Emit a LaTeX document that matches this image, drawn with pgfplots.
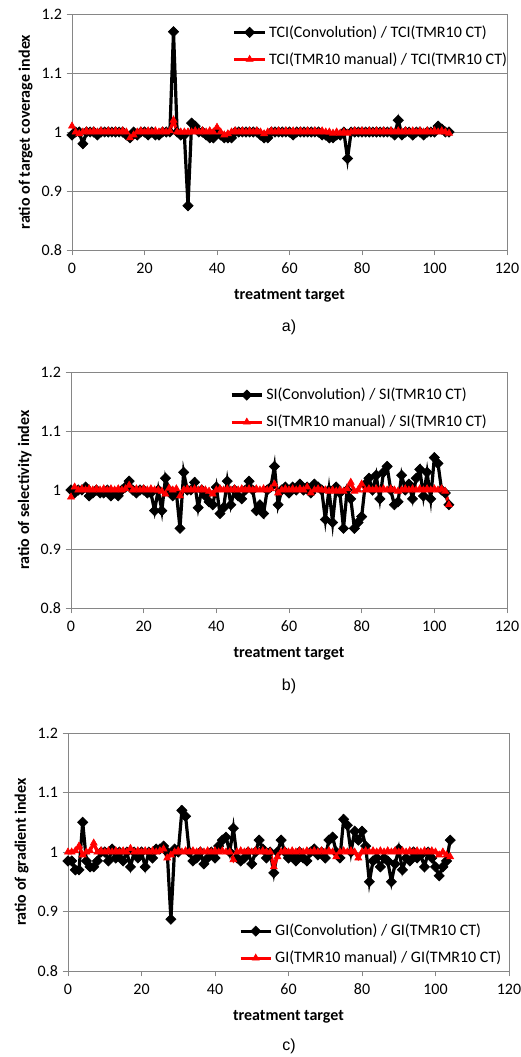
\documentclass[border=0pt]{standalone}
\usepackage{fontspec}
\setmainfont{Carlito}
\newfontfamily\arialfont{Liberation Sans}
\usepackage{pgfplots}
\pgfplotsset{compat=1.18}
\usepackage{pgfplotstable}

\definecolor{axgray}{RGB}{134,134,134}
\definecolor{exred}{RGB}{255,0,0}

% ratio of indices per treatment target
\pgfplotstableread{
x conv man
0 0.995 1.010
1 1.000 1.000
2 1.000 0.997
3 0.980 1.000
4 1.000 1.002
5 1.000 1.000
6 1.000 1.002
7 0.995 1.000
8 1.000 1.002
9 1.000 1.000
10 1.000 1.002
11 1.000 1.000
12 1.000 1.002
13 1.000 1.000
14 1.000 1.002
15 0.995 1.000
16 0.990 0.990
17 1.000 0.995
18 0.995 1.000
19 1.000 1.002
20 1.000 1.000
21 0.995 1.002
22 1.000 1.000
23 0.995 1.002
24 0.995 1.000
25 1.000 1.002
26 1.000 1.000
27 1.000 1.002
28 1.170 1.020
29 1.000 1.000
30 0.995 1.000
31 0.995 1.000
32 0.875 1.000
33 1.015 1.000
34 1.010 1.002
35 1.000 1.000
36 1.000 1.002
37 0.995 1.000
38 0.990 1.002
39 0.990 1.000
40 1.000 1.008
41 0.995 1.000
42 0.990 0.995
43 0.990 0.997
44 0.990 1.000
45 1.000 1.002
46 1.000 1.000
47 1.000 1.002
48 1.000 1.000
49 1.000 1.002
50 1.000 1.000
51 1.000 1.002
52 0.995 1.000
53 0.990 0.997
54 0.990 1.000
55 1.000 1.002
56 1.000 1.000
57 1.000 1.002
58 1.000 1.000
59 1.000 1.002
60 1.000 1.000
61 0.995 1.002
62 1.000 1.000
63 1.000 1.002
64 1.000 1.000
65 1.000 1.002
66 1.000 1.000
67 1.000 1.002
68 1.000 1.000
69 0.995 1.002
70 0.995 1.000
71 0.990 1.000
72 0.990 0.998
73 0.995 1.000
74 0.995 0.998
75 1.000 1.000
76 0.955 0.998
77 1.000 1.000
78 1.000 1.002
79 1.000 1.000
80 1.000 1.002
81 1.000 1.000
82 1.000 1.002
83 1.000 1.000
84 1.000 1.002
85 1.000 1.000
86 1.000 1.002
87 1.000 1.000
88 1.000 1.002
89 0.995 1.000
90 1.020 1.002
91 0.995 1.000
92 1.000 1.002
93 1.000 1.000
94 0.995 1.002
95 1.000 1.000
96 1.000 1.002
97 0.995 1.000
98 1.000 1.002
99 1.000 1.000
100 1.000 1.002
101 1.010 1.000
102 1.005 1.002
103 1.000 1.000
104 1.000 0.998
}\tci

\pgfplotstableread{
x conv man
0 1.000 0.988
1 0.995 1.005
2 1.000 1.000
3 1.000 1.002
4 1.005 1.000
5 0.990 1.002
6 0.995 1.000
7 1.000 1.002
8 0.995 1.000
9 0.995 1.002
10 1.000 1.000
11 0.990 1.002
12 0.995 1.000
13 0.990 1.002
14 1.000 1.000
15 1.005 1.002
16 1.015 1.008
17 1.000 1.000
18 0.995 1.002
19 1.000 1.000
20 1.000 1.002
21 0.995 1.000
22 0.995 1.002
23 0.965 1.000
24 1.000 1.000
25 0.965 0.998
26 1.020 0.993
27 1.000 1.003
28 0.990 1.000
29 0.995 1.002
30 0.935 0.990
31 1.030 1.000
32 1.000 1.002
33 1.000 1.000
34 1.013 1.002
35 0.970 1.000
36 1.000 1.002
37 0.990 1.000
38 0.980 0.998
39 0.975 0.993
40 1.005 1.000
41 0.960 1.002
42 0.970 1.000
43 1.015 1.002
44 0.975 1.000
45 1.000 1.002
46 0.990 1.000
47 0.985 1.002
48 1.000 1.000
49 1.015 1.002
50 1.000 1.000
51 0.965 1.002
52 0.975 1.000
53 0.960 1.002
54 1.000 1.000
55 1.005 1.002
56 1.040 1.010
57 0.975 0.995
58 1.000 1.000
59 1.005 1.002
60 0.995 1.000
61 1.005 1.002
62 1.000 1.000
63 1.010 1.002
64 1.000 1.000
65 1.005 1.005
66 0.995 0.995
67 1.010 1.000
68 1.005 1.002
69 1.000 1.000
70 0.950 1.000
71 1.000 0.998
72 0.945 1.000
73 1.005 0.998
74 0.995 1.000
75 0.935 0.998
76 1.000 1.002
77 0.985 1.013
78 0.935 0.998
79 0.945 1.000
80 0.955 1.010
81 1.010 1.000
82 1.020 1.002
83 1.000 1.000
84 1.025 1.002
85 0.985 1.000
86 1.030 1.002
87 1.040 1.000
88 1.000 1.002
89 0.975 1.000
90 0.980 0.998
91 1.025 1.000
92 1.000 1.002
93 1.010 1.000
94 0.985 1.002
95 1.020 1.000
96 1.035 1.002
97 0.990 1.000
98 1.030 1.002
99 0.985 1.000
100 1.055 1.002
101 1.045 1.000
102 1.000 1.002
103 0.995 0.998
104 0.975 0.975
}\si

\pgfplotstableread{
x conv man
0 0.985 1.000
1 0.985 1.000
2 0.970 1.002
3 0.970 1.010
4 1.050 0.995
5 0.985 1.000
6 0.975 1.002
7 0.975 1.015
8 0.985 1.000
9 1.000 1.002
10 1.000 1.000
11 0.985 1.002
12 1.005 1.000
13 0.990 1.002
14 1.000 1.000
15 0.985 1.002
16 1.000 1.000
17 0.975 1.006
18 1.000 1.000
19 0.990 1.002
20 1.000 1.000
21 0.975 1.002
22 1.000 1.000
23 0.990 1.002
24 1.005 1.000
25 1.005 1.002
26 1.010 1.005
27 1.000 0.990
28 0.887 0.995
29 1.005 1.000
30 1.000 1.002
31 1.070 1.000
32 1.060 1.002
33 1.000 1.000
34 0.985 1.002
35 0.990 1.000
36 1.000 1.002
37 0.980 1.000
38 0.990 1.002
39 1.000 1.000
40 0.990 1.002
41 1.010 1.000
42 1.020 1.002
43 1.025 1.000
44 1.000 1.000
45 1.040 0.987
46 0.990 1.000
47 0.985 1.002
48 0.990 1.000
49 1.000 1.002
50 0.980 1.000
51 1.000 1.002
52 1.020 1.000
53 1.005 1.002
54 0.990 1.000
55 1.000 1.000
56 0.965 0.975
57 1.000 0.992
58 1.020 1.000
59 1.000 1.002
60 0.990 1.000
61 0.995 1.002
62 0.985 1.000
63 1.000 1.002
64 0.990 1.000
65 0.985 1.002
66 1.000 1.000
67 1.005 1.002
68 0.995 1.000
69 1.000 1.002
70 0.990 1.000
71 1.020 1.002
72 1.025 1.000
73 1.000 0.992
74 0.990 1.000
75 1.055 1.002
76 1.045 1.000
77 1.000 1.002
78 1.035 1.000
79 1.020 0.990
80 1.035 1.000
81 1.010 1.002
82 0.950 1.000
83 0.985 1.002
84 0.990 1.000
85 0.975 1.002
86 0.990 1.000
87 0.985 1.002
88 0.950 1.000
89 0.980 1.002
90 1.005 1.000
91 0.970 1.002
92 0.990 1.000
93 0.985 1.002
94 1.000 1.000
95 0.990 1.002
96 0.995 1.000
97 0.975 1.002
98 1.000 1.000
99 0.990 1.002
100 0.975 1.000
101 0.960 0.995
102 0.975 1.000
103 0.985 0.995
104 1.020 0.992
}\gi

\pgfplotsset{
  ratioaxis/.style={
    scale only axis,
    xmin=0, xmax=120, ymin=0.8, ymax=1.2,
    xtick={0,20,...,120}, ytick={0.8,0.9,1,1.1,1.2},
    yticklabels={0.8,0.9,1,1.1,1.2},
    xtick pos=left, ytick pos=left,
    ymajorgrids, grid style={axgray, line width=0.6pt},
    axis line style={axgray, line width=0.6pt},
    tick style={axgray, line width=0.6pt},
    tick align=outside, major tick length=4pt,
    /pgf/number format/assume math mode=true,
    tick label style={font=\fontsize{12}{14}\selectfont},
    xticklabel style={yshift=-2pt},
    label style={font=\fontsize{12}{14}\selectfont\bfseries},
    xlabel={treatment target},
    xlabel style={yshift=-5pt},
    legend style={draw=none, fill=none, anchor=north west,
      font=\fontsize{12}{14}\selectfont, row sep=6pt,
      cells={anchor=west, inner xsep=1pt}},
    legend image code/.code={
      \draw[mark repeat=2, mark phase=2]
        plot coordinates {(0cm,0cm) (0.4cm,0cm) (0.8cm,0cm)};},
  },
  convstyle/.style={black, line width=2.4pt, mark=square*, mark size=2.7pt,
    mark options={rotate=45, solid, line width=0.5pt}},
  manstyle/.style={exred, line width=2.4pt, mark=triangle*, mark size=3pt,
    mark options={solid, line width=0.5pt}},
}

\begin{document}
\begin{tikzpicture}
\path[use as bounding box] (0pt,0pt) rectangle (390.75pt,-792.75pt);

% a) target coverage index
\begin{axis}[ratioaxis, at={(54pt,-187.5pt)}, anchor=south west,
    width=326.25pt, height=177pt,
    ylabel={ratio of target coverage index},
    legend style={at={(0.36,0.975)}}]
  \addplot[convstyle] table[x=x, y=conv] {\tci};
  \addlegendentry{TCI(Convolution) / TCI(TMR10 CT)}
  \addplot[manstyle] table[x=x, y=man] {\tci};
  \addlegendentry{TCI(TMR10 manual) / TCI(TMR10 CT)}
\end{axis}

% b) selectivity index
\begin{axis}[ratioaxis, at={(53.25pt,-456pt)}, anchor=south west,
    width=327pt, height=177pt,
    ylabel={ratio of selectivity index},
    legend style={at={(0.355,0.955)}}]
  \addplot[convstyle] table[x=x, y=conv] {\si};
  \addlegendentry{SI(Convolution) / SI(TMR10 CT)}
  \addplot[manstyle] table[x=x, y=man] {\si};
  \addlegendentry{SI(TMR10 manual) / SI(TMR10 CT)}
\end{axis}

% c) gradient index
\begin{axis}[ratioaxis, at={(51pt,-728.25pt)}, anchor=south west,
    width=330.75pt, height=178.5pt,
    ylabel={ratio of gradient index},
    legend style={at={(0.378,0.22)}}]
  \addplot[convstyle] table[x=x, y=conv] {\gi};
  \addlegendentry{GI(Convolution) / GI(TMR10 CT)}
  \addplot[manstyle] table[x=x, y=man] {\gi};
  \addlegendentry{GI(TMR10 manual) / GI(TMR10 CT)}
\end{axis}

\node[font=\arialfont\fontsize{12}{14}\selectfont] at (216.75pt,-245.25pt) {a)};
\node[font=\arialfont\fontsize{12}{14}\selectfont] at (216.75pt,-515pt) {b)};
\node[font=\arialfont\fontsize{12}{14}\selectfont] at (216.75pt,-785pt) {c)};
\end{tikzpicture}
\end{document}
